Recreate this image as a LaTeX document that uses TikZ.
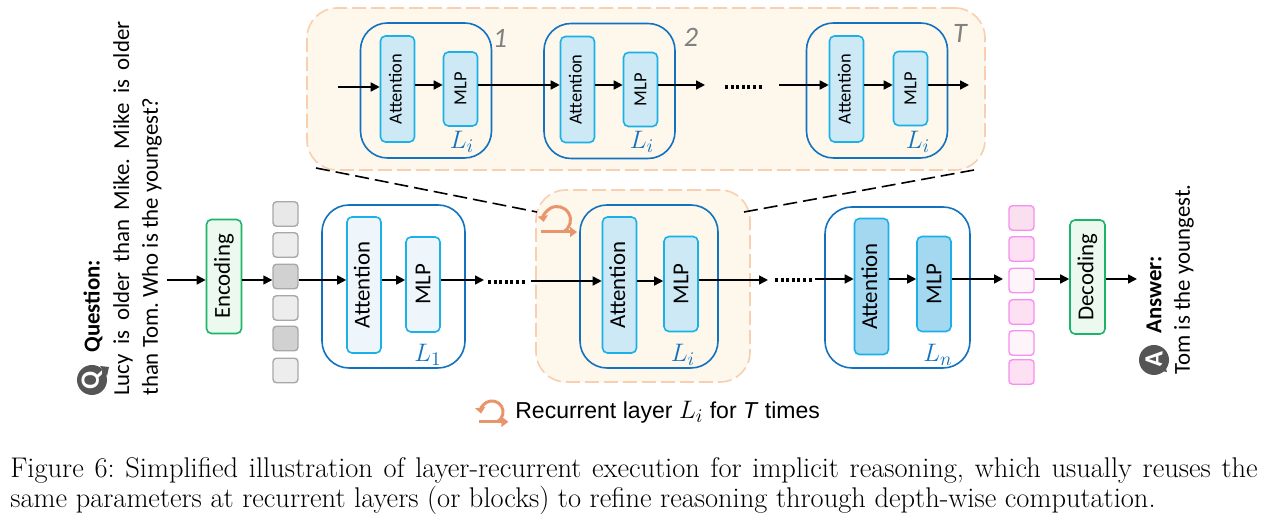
\documentclass[tikz,border=0pt]{standalone}
\usepackage{xcolor}
\usepackage{graphicx}
\usepackage{fontspec}
\setsansfont{Carlito}
\newfontfamily\arialfont{Liberation Sans}
\usetikzlibrary{arrows.meta}
\frenchspacing

\newcommand{\px}{0.02cm}
\newcommand{\vtext}[1]{\rotatebox{90}{#1}}
\newcommand{\attnlabel}{\rotatebox{90}{\raisebox{1.2pt}[\height][\depth]{Attention}}}

\definecolor{layerblue}{HTML}{1272BF}
\definecolor{cellblue}{HTML}{1AB0E8}
\definecolor{paleblue}{HTML}{EEF6FC}
\definecolor{midblue}{HTML}{CDE9F6}
\definecolor{deepblue}{HTML}{A3D8F0}
\definecolor{codegreen}{HTML}{1CB468}
\definecolor{palegreen}{HTML}{ECF9EE}
\definecolor{zoomline}{HTML}{F8CFB0}
\definecolor{zoomfill}{HTML}{FDF7EC}
\definecolor{loopcolor}{HTML}{E8956B}
\definecolor{tokengrey}{HTML}{A8A8A8}
\definecolor{tokenpink}{HTML}{F78EF0}
\definecolor{bubblegrey}{HTML}{555555}

\tikzset{
    flow/.style={-{Triangle[length=9*\px, width=9*\px]}, line width=1.6*\px, black},
    dashlink/.style={line width=1.6*\px, black, dash pattern=on 14*\px off 6*\px},
    dotrun/.style={line width=3.2*\px, black, dash pattern=on 3*\px off 2.6*\px},
    zoombox/.style={draw=zoomline, fill=zoomfill, line width=1.6*\px, dash pattern=on 14*\px off 5*\px, rounded corners=30*\px, inner sep=0pt},
    layerbox/.style={draw=layerblue, line width=1.6*\px, rounded corners=27*\px, inner sep=0pt, minimum width=#1*\px},
    layerbox/.default=140,
    bigcell/.style={draw=cellblue, line width=1.6*\px, rounded corners=5*\px, inner sep=0pt, minimum width=34*\px, font=\sffamily\fontsize{13}{15}\selectfont},
    smallcell/.style={bigcell, font=\sffamily\fontsize{10.5}{12}\selectfont},
    attn/.style={minimum height=136*\px},
    mlp/.style={minimum height=95*\px},
    smallattn/.style={minimum height=106*\px},
    smallmlp/.style={minimum height=74*\px},
    codebox/.style={draw=codegreen, fill=palegreen, line width=1.6*\px, rounded corners=5*\px, inner sep=0pt, minimum width=35*\px, minimum height=114*\px, font=\sffamily\fontsize{13}{15}\selectfont},
    token/.style={line width=1.4*\px, rounded corners=3.5*\px, inner sep=0pt, minimum width=25*\px, minimum height=24.5*\px},
    greytoken/.style={token, draw=tokengrey},
    pinktoken/.style={token, draw=tokenpink},
    sidetext/.style={rotate=90, anchor=west, inner sep=0pt, font=\sffamily\fontsize{13}{15}\selectfont},
    bubble/.style={circle, fill=bubblegrey, text=white, inner sep=0pt, minimum size=30*\px, font=\sffamily\bfseries\fontsize{15}{15}\selectfont},
    layerlabel/.style={inner sep=0pt, text=layerblue, font=\fontsize{15}{17}\selectfont},
    roundlabel/.style={inner sep=0pt, text=gray, font=\sffamily\itshape\fontsize{16}{18}\selectfont},
    captionline/.style={anchor=west, inner sep=0pt, font=\fontsize{16.2}{20}\selectfont},
    looparrow/.pic={
        \draw[loopcolor, line width=3*\px, -{Triangle[length=7*\px, width=10*\px]}] (-16,12) -- (20,12);
        \draw[loopcolor, line width=3*\px, -{Triangle[length=6*\px, width=10*\px]}] (6.75,11.7) arc[start angle=-60, end angle=188, radius=13.5*\px];
    }
}

\begin{document}
\begin{tikzpicture}[x=\px, y=-\px]
    \useasboundingbox (0,0) rectangle (1269,519);
    \coordinate (mainrow) at (0,280);
    \coordinate (zoomrow) at (0,85);

    % zoomed view of the recurrent layer
    \node[zoombox, minimum width=678*\px, minimum height=162*\px] (zoom) at (646,89) {};
    \node[zoombox, minimum width=214*\px, minimum height=192*\px] (focus) at (643,286) {};
    \coordinate (zoomleft) at (316,168);
    \coordinate (zoomright) at (974,170);
    \coordinate (focusleft) at (537,212);
    \coordinate (focusright) at (744,212);
    \draw[dashlink] (zoomleft) -- (focusleft);
    \draw[dashlink] (focusright) -- (zoomright);

    \node[layerbox=131, minimum height=135*\px] (rounda) at (426,90.5) {};
    \node[smallcell, smallattn, fill=midblue] (attna) at (397.5,89) {\attnlabel};
    \node[smallcell, smallmlp, fill=midblue] (mlpa) at (460.5,89) {\vtext{MLP}};
    \node[layerlabel] (labela) at (462,142) {$L_i$};
    \node[roundlabel] (numa) at (500,38) {1};

    \node[layerbox=131, minimum height=135*\px] (roundb) at (609.5,91) {};
    \node[smallcell, smallattn, fill=midblue] (attnb) at (577.5,89.5) {\attnlabel};
    \node[smallcell, smallmlp, fill=midblue] (mlpb) at (640.5,89.5) {\vtext{MLP}};
    \node[layerlabel] (labelb) at (642,142) {$L_i$};
    \node[roundlabel] (numb) at (691,37) {2};

    \node[layerbox=141, minimum height=135*\px] (roundt) at (877,90.5) {};
    \node[smallcell, smallattn, fill=midblue] (attnt) at (846.5,89) {\attnlabel};
    \node[smallcell, smallmlp, fill=midblue] (mlpt) at (910.5,88.5) {\vtext{MLP}};
    \node[layerlabel] (labelt) at (918,142) {$L_i$};
    \node[roundlabel] (numt) at (960,33) {T};

    \coordinate (zoomin) at (338,87);
    \coordinate (zoomouta) at (705,85);
    \coordinate (zoomina) at (779,85);
    \coordinate (zoomoutt) at (969,85);
    \draw[flow] (zoomin) -- (attna.west |- zoomin);
    \draw[flow] (attna.east |- zoomrow) -- (mlpa.west |- zoomrow);
    \draw[flow] (mlpa.east |- zoomrow) -- (attnb.west |- zoomrow);
    \draw[flow] (attnb.east |- zoomrow) -- (mlpb.west |- zoomrow);
    \draw[flow] (mlpb.east |- zoomrow) -- (zoomouta);
    \draw[dotrun] (725,87) -- (762,87);
    \draw[flow] (zoomina) -- (attnt.west |- zoomrow);
    \draw[flow] (attnt.east |- zoomrow) -- (mlpt.west |- zoomrow);
    \draw[flow] (mlpt.east |- zoomrow) -- (zoomoutt);

    % question side
    \node[bubble] (qicon) at (92,380) {\vtext{Q}};
    \fill[bubblegrey] (100,366) -- (109,367) -- (107,376) -- cycle;
    \node[sidetext, font=\sffamily\bfseries\fontsize{13}{15}\selectfont] (qhead) at (93,353) {Question:};
    \node[sidetext] (qlinea) at (123,396) {\makebox[213pt][s]{Lucy is older than Mike. Mike is older}};
    \node[sidetext] (qlineb) at (152,396) {than Tom. Who is the youngest?};
    \coordinate (qout) at (167,280);

    \node[codebox] (enc) at (224,276.5) {\vtext{Encoding}};
    \node[greytoken, fill=black!9] (ga) at (285.5,214) {};
    \node[greytoken, fill=black!7] (gb) at (285.5,245) {};
    \node[greytoken, fill=black!18] (gc) at (285.5,276.5) {};
    \node[greytoken, fill=black!7] (gd) at (285.5,308) {};
    \node[greytoken, fill=black!18] (ge) at (285.5,338.5) {};
    \node[greytoken, fill=black!7] (gf) at (285.5,370.5) {};

    % main layers
    \node[layerbox=143, minimum height=163*\px] (layera) at (393.5,286.5) {};
    \node[bigcell, attn, fill=paleblue] (attn1) at (364,285) {\attnlabel};
    \node[bigcell, mlp, fill=paleblue] (mlp1) at (423,284.5) {\vtext{MLP}};
    \node[layerlabel] (label1) at (428,355) {$L_1$};

    \node[layerbox=138, minimum height=163*\px] (layeri) at (649,286.5) {};
    \node[bigcell, attn, fill=midblue] (attni) at (619.5,285) {\attnlabel};
    \node[bigcell, mlp, fill=midblue] (mlpi) at (681,284) {\vtext{MLP}};
    \node[layerlabel] (labeli) at (683,355) {$L_i$};
    \pic at (557,220) {looparrow};

    \node[layerbox=145, minimum height=161*\px] (layern) at (897.5,287.5) {};
    \node[bigcell, attn, fill=deepblue] (attnn) at (871.5,286.5) {\attnlabel};
    \node[bigcell, mlp, fill=deepblue] (mlpn) at (934,284) {\vtext{MLP}};
    \node[layerlabel] (labeln) at (938,355) {$L_n$};

    \coordinate (runa) at (484,280);
    \coordinate (runb) at (531,281);
    \coordinate (runc) at (768,280);
    \coordinate (rund) at (815,279);
    \coordinate (layerout) at (1003,279);
    \draw[flow] (qout) -- (enc.west |- mainrow);
    \draw[flow] (enc.east |- mainrow) -- (gc.west |- mainrow);
    \draw[flow] (gc.east |- mainrow) -- (attn1.west |- mainrow);
    \draw[flow] (attn1.east |- mainrow) -- (mlp1.west |- mainrow);
    \draw[flow] (mlp1.east |- mainrow) -- (runa);
    \draw[dotrun] (488,282) -- (525,282);
    \draw[flow] (runb) -- (attni.west |- runb);
    \draw[flow] (attni.east |- runb) -- (mlpi.west |- runb);
    \draw[flow] (mlpi.east |- mainrow) -- (runc);
    \draw[dotrun] (775,280) -- (812,280);
    \draw[flow] (rund) -- (attnn.west |- rund);
    \draw[flow] (attnn.east |- rund) -- (mlpn.west |- rund);
    \draw[flow] (mlpn.east |- rund) -- (layerout);

    % answer side
    \node[pinktoken, fill=black!10!magenta!13!white] (pa) at (1021.5,218) {};
    \node[pinktoken, fill=magenta!12] (pb) at (1021.5,249) {};
    \node[pinktoken, fill=magenta!4] (pc) at (1021.5,280.5) {};
    \node[pinktoken, fill=magenta!12] (pd) at (1021.5,312) {};
    \node[pinktoken, fill=magenta!4] (pe) at (1021.5,343) {};
    \node[pinktoken, fill=magenta!12] (pf) at (1021.5,372) {};
    \node[codebox] (dec) at (1087.5,277) {\vtext{Decoding}};
    \coordinate (aout) at (1137,279);
    \draw[flow] (pc.east |- rund) -- (dec.west |- rund);
    \draw[flow] (dec.east |- rund) -- (aout);

    \node[bubble] (aicon) at (1154,360) {\vtext{A}};
    \fill[bubblegrey] (1156,370) -- (1167,372) -- (1164,362) -- cycle;
    \node[sidetext, font=\sffamily\bfseries\fontsize{13}{15}\selectfont] (ahead) at (1154,334) {Answer:};
    \node[sidetext] (aline) at (1184,375) {Tom is the youngest.};

    % legend and caption
    \pic[scale=0.82] at (492,412) {looparrow};
    \node[anchor=west, inner sep=0pt, font=\arialfont\fontsize{13.1}{15}\selectfont] (legend) at (515,412.5) {Recurrent layer {\fontsize{15}{15}\selectfont $L_i$} for \textit{T} times};
    \node[captionline] (capa) at (10,470) {\makebox[710pt][s]{Figure 6: Simplified illustration of layer-recurrent execution for implicit reasoning, which usually reuses the}};
    \node[captionline] (capb) at (10,500) {same parameters at recurrent layers (or blocks) to refine reasoning through depth-wise computation.};
\end{tikzpicture}
\end{document}
